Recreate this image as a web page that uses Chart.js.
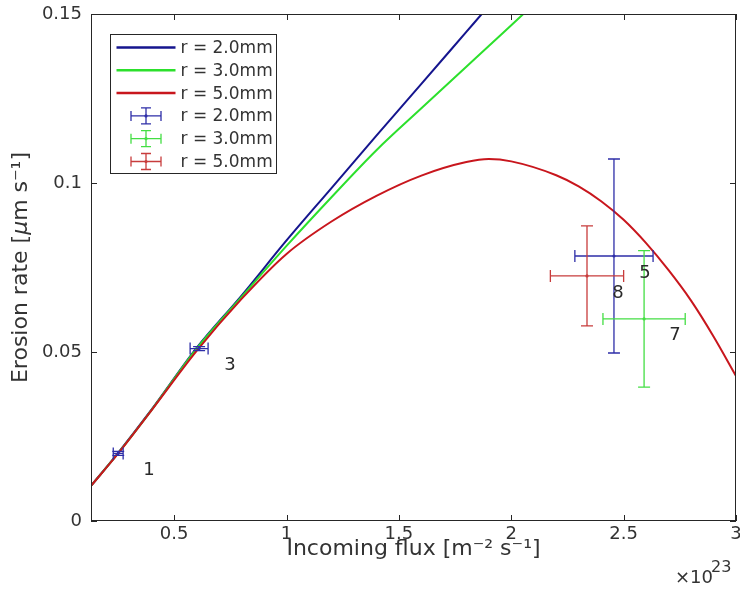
<!DOCTYPE html>
<html>
<head>
<meta charset="utf-8">
<script src="https://cdn.jsdelivr.net/npm/chart.js@4/dist/chart.umd.min.js"></script>
<style>
  html, body { margin: 0; padding: 0; background: #ffffff; }
  #wrap { width: 740px; height: 589px; position: relative; }
</style>
</head>
<body>
<div id="wrap"><canvas id="c" width="740" height="589"></canvas></div>
<script>
// Model curves: erosion rate vs incoming flux (flux in units of 1e23 m^-2 s^-1)
const curveFlux = [0.13, 0.25, 0.4, 0.6, 0.8, 1.0, 1.2, 1.4, 1.6, 1.8, 1.9, 2.0, 2.2, 2.3, 2.4, 2.5, 2.6, 2.7, 2.8, 2.9, 3.0];
const modelR2 = [0.0104, 0.0201, 0.0330, 0.0512, 0.0667, 0.0830, 0.0985, 0.1140, 0.1293, 0.1447, 0.1524, 0.1600, null, null, null, null, null, null, null, null, null];
const modelR3 = [0.0104, 0.0200, 0.0329, 0.0510, 0.0663, 0.0814, 0.0958, 0.1097, 0.1221, 0.1344, 0.1405, 0.1467, 0.1590, null, null, null, null, null, null, null, null];
const modelR5 = [0.0104, 0.0199, 0.0328, 0.0503, 0.0657, 0.0790, 0.0886, 0.0962, 0.1022, 0.1062, 0.1071, 0.1064, 0.1023, 0.0990, 0.0946, 0.0891, 0.0822, 0.0742, 0.0652, 0.0546, 0.0429];

// Measurements with uncertainties
const measFluxR2 = [0.251, 0.611, 2.457];
const measRateR2 = [0.0200, 0.0510, 0.0784];
const fluxErrR2 = [0.022, 0.040, 0.174];
const rateErrR2 = [0.0006, 0.0006, 0.0287];
const shotIdsR2 = ['1', '3', '5'];

const measFluxR3 = [2.591];
const measRateR3 = [0.0598];
const fluxErrR3 = [0.183];
const rateErrR3 = [0.0202];
const shotIdsR3 = ['7'];

const measFluxR5 = [2.337];
const measRateR5 = [0.0725];
const fluxErrR5 = [0.163];
const rateErrR5 = [0.0148];
const shotIdsR5 = ['8'];

const seriesLabels = ['r = 2.0mm', 'r = 3.0mm', 'r = 5.0mm'];

const xTickValues = [0.5, 1, 1.5, 2, 2.5, 3];
const xTickLabels = ['0.5', '1', '1.5', '2', '2.5', '3'];
const yTickValues = [0, 0.05, 0.1, 0.15];
const yTickLabels = ['0', '0.05', '0.1', '0.15'];

const lineColors = ['#15158e', '#2ce02c', '#c8161d'];
const barColors = ['#2e2ea8', '#44de44', '#c83c3c'];
const FONT = 'DejaVu Sans';
const TEXT = '#333333';

const pts = (xs, ys) => xs.map((x, i) => ({ x: x, y: ys[i] }));

// later series are painted over earlier ones (lower order = on top)
const lineSet = (i, ys) => ({
  label: seriesLabels[i],
  data: pts(curveFlux, ys),
  showLine: true,
  borderColor: lineColors[i],
  backgroundColor: lineColors[i],
  borderWidth: 2,
  pointRadius: 0,
  cubicInterpolationMode: 'monotone',
  spanGaps: false,
  order: 4 - i,
  kind: 'line'
});

const barSet = (i, xs, ys, ex, ey, ids) => ({
  label: seriesLabels[i],
  data: pts(xs, ys),
  showLine: false,
  borderColor: barColors[i],
  backgroundColor: barColors[i],
  pointRadius: 1.6,
  pointBorderWidth: 0,
  order: 0,
  errX: ex,
  errY: ey,
  ids: ids,
  kind: 'bars'
});

// Error bars with end caps, plus the shot number beside each measurement
const errorBarPlugin = {
  id: 'errorBars',
  afterDatasetsDraw(chart) {
    const ctx = chart.ctx;
    const xs = chart.scales.x, ys = chart.scales.y;
    const area = chart.chartArea;
    ctx.save();
    ctx.beginPath();
    ctx.rect(area.left, area.top, area.right - area.left, area.bottom - area.top);
    ctx.clip();
    chart.data.datasets.forEach(ds => {
      if (ds.kind !== 'bars') return;
      ctx.strokeStyle = ds.borderColor;
      ctx.lineWidth = 1.3;
      const cap = 6;
      ds.data.forEach((p, j) => {
        const cx = xs.getPixelForValue(p.x), cy = ys.getPixelForValue(p.y);
        const x0 = xs.getPixelForValue(p.x - ds.errX[j]), x1 = xs.getPixelForValue(p.x + ds.errX[j]);
        const y0 = ys.getPixelForValue(p.y - ds.errY[j]), y1 = ys.getPixelForValue(p.y + ds.errY[j]);
        ctx.beginPath();
        ctx.moveTo(cx, y0); ctx.lineTo(cx, y1);
        ctx.moveTo(cx - cap, y0); ctx.lineTo(cx + cap, y0);
        ctx.moveTo(cx - cap, y1); ctx.lineTo(cx + cap, y1);
        ctx.moveTo(x0, cy); ctx.lineTo(x1, cy);
        ctx.moveTo(x0, cy - cap); ctx.lineTo(x0, cy + cap);
        ctx.moveTo(x1, cy - cap); ctx.lineTo(x1, cy + cap);
        ctx.stroke();
      });
    });
    ctx.restore();

    ctx.save();
    ctx.fillStyle = '#2a2a2a';
    ctx.font = '18px "' + FONT + '"';
    ctx.textAlign = 'left';
    ctx.textBaseline = 'middle';
    chart.data.datasets.forEach(ds => {
      if (ds.kind !== 'bars') return;
      ds.data.forEach((p, j) => {
        const tx = xs.getPixelForValue(p.x + 0.112);
        const ty = ys.getPixelForValue(p.y - 0.005);
        ctx.fillText(ds.ids[j], tx, ty);
      });
    });
    ctx.restore();
  }
};

// Axes box with inward ticks on all four sides, axis titles and exponent
const framePlugin = {
  id: 'frame',
  afterDraw(chart) {
    const ctx = chart.ctx;
    const a = chart.chartArea;
    const xs = chart.scales.x, ys = chart.scales.y;
    const tl = 6;
    ctx.save();
    ctx.strokeStyle = '#262626';
    ctx.lineWidth = 1;
    ctx.strokeRect(Math.round(a.left) + 0.5, Math.round(a.top) + 0.5,
                   Math.round(a.right - a.left) - 1, Math.round(a.bottom - a.top) - 1);
    ctx.beginPath();
    xTickValues.forEach(v => {
      const px = Math.round(xs.getPixelForValue(v)) + 0.5;
      ctx.moveTo(px, a.bottom); ctx.lineTo(px, a.bottom - tl);
      ctx.moveTo(px, a.top); ctx.lineTo(px, a.top + tl);
    });
    yTickValues.forEach(v => {
      const py = Math.round(ys.getPixelForValue(v)) + 0.5;
      ctx.moveTo(a.left, py); ctx.lineTo(a.left + tl, py);
      ctx.moveTo(a.right, py); ctx.lineTo(a.right - tl, py);
    });
    ctx.stroke();

    // axis titles
    ctx.fillStyle = TEXT;
    ctx.textBaseline = 'middle';
    const tf = '22px "' + FONT + '"';
    const tfi = 'italic 22px "' + FONT + '"';
    const drawRuns = (runs, cx, cy) => {
      let w = 0;
      runs.forEach(r => { ctx.font = r[1]; w += ctx.measureText(r[0]).width; });
      let x = cx - w / 2;
      ctx.textAlign = 'left';
      runs.forEach(r => { ctx.font = r[1]; ctx.fillText(r[0], x, cy); x += ctx.measureText(r[0]).width; });
    };
    drawRuns([['Incoming flux [m\u207B\u00B2 s\u207B\u00B9]', tf]], (a.left + a.right) / 2, 549);
    ctx.save();
    ctx.translate(21, (a.top + a.bottom) / 2);
    ctx.rotate(-Math.PI / 2);
    drawRuns([['Erosion rate [', tf], ['\u03BC', tfi], ['m s\u207B\u00B9]', tf]], 0, 0);
    ctx.restore();

    // exponent label
    ctx.textAlign = 'left';
    ctx.font = '18px "' + FONT + '"';
    ctx.fillText('\u00D710', 675, 578);
    ctx.font = '16px "' + FONT + '"';
    ctx.fillText('23', 711, 568);
    ctx.restore();
  }
};

// Legend: line samples for the model curves, error-bar glyphs for the measurements
const legendPlugin = {
  id: 'boxLegend',
  afterDraw(chart) {
    const ctx = chart.ctx;
    const a = chart.chartArea;
    const bx = a.left + 19.5, by = a.top + 20.5, bw = 166, bh = 139;
    ctx.save();
    ctx.fillStyle = '#ffffff';
    ctx.fillRect(bx, by, bw, bh);
    ctx.strokeStyle = '#262626';
    ctx.lineWidth = 1;
    ctx.strokeRect(bx, by, bw, bh);
    ctx.font = '17px "' + FONT + '"';
    ctx.textBaseline = 'middle';
    ctx.textAlign = 'left';
    const rowH = 22.8;
    chart.data.datasets.forEach((ds, i) => {
      const cy = by + 13 + i * rowH;
      if (ds.kind === 'line') {
        ctx.strokeStyle = ds.borderColor;
        ctx.lineWidth = 2.5;
        ctx.beginPath();
        ctx.moveTo(bx + 6, cy); ctx.lineTo(bx + 65, cy);
        ctx.stroke();
      } else {
        const cx = bx + 35.5, hw = 15, hh = 8, cap = 5;
        ctx.strokeStyle = ds.borderColor;
        ctx.lineWidth = 1.3;
        ctx.beginPath();
        ctx.moveTo(cx - hw, cy); ctx.lineTo(cx + hw, cy);
        ctx.moveTo(cx - hw, cy - cap); ctx.lineTo(cx - hw, cy + cap);
        ctx.moveTo(cx + hw, cy - cap); ctx.lineTo(cx + hw, cy + cap);
        ctx.moveTo(cx, cy - hh); ctx.lineTo(cx, cy + hh);
        ctx.moveTo(cx - cap, cy - hh); ctx.lineTo(cx + cap, cy - hh);
        ctx.moveTo(cx - cap, cy + hh); ctx.lineTo(cx + cap, cy + hh);
        ctx.stroke();
        ctx.fillStyle = ds.borderColor;
        ctx.beginPath(); ctx.arc(cx, cy, 1.6, 0, Math.PI * 2); ctx.fill();
      }
      ctx.fillStyle = TEXT;
      ctx.fillText(ds.label, bx + 70, cy + 1);
    });
    ctx.restore();
  }
};

new Chart(document.getElementById('c'), {
  type: 'scatter',
  data: {
    datasets: [
      lineSet(0, modelR2),
      lineSet(1, modelR3),
      lineSet(2, modelR5),
      barSet(0, measFluxR2, measRateR2, fluxErrR2, rateErrR2, shotIdsR2),
      barSet(1, measFluxR3, measRateR3, fluxErrR3, rateErrR3, shotIdsR3),
      barSet(2, measFluxR5, measRateR5, fluxErrR5, rateErrR5, shotIdsR5)
    ]
  },
  options: {
    responsive: false,
    animation: false,
    devicePixelRatio: 1,
    layout: { padding: { left: 0, right: 4, top: 14, bottom: 0 } },
    plugins: { legend: { display: false }, tooltip: { enabled: false } },
    scales: {
      x: {
        type: 'linear',
        min: 0.13,
        max: 3,
        grid: { display: false, drawTicks: false },
        border: { display: false },
        afterBuildTicks: s => { s.ticks = xTickValues.map(v => ({ value: v })); },
        afterFit: s => { s.height = 68; s.paddingLeft = 0; s.paddingRight = 0; },
        ticks: {
          padding: 3,
          color: TEXT,
          font: { family: FONT, size: 18 },
          callback: (v) => xTickLabels[xTickValues.indexOf(v)]
        }
      },
      y: {
        type: 'linear',
        min: 0,
        max: 0.15,
        grid: { display: false, drawTicks: false },
        border: { display: false },
        afterBuildTicks: s => { s.ticks = yTickValues.map(v => ({ value: v })); },
        afterFit: s => { s.width = 91; s.paddingTop = 0; s.paddingBottom = 0; },
        ticks: {
          padding: 9,
          color: TEXT,
          font: { family: FONT, size: 18 },
          callback: (v) => yTickLabels[yTickValues.indexOf(v)]
        }
      }
    }
  },
  plugins: [errorBarPlugin, framePlugin, legendPlugin]
});
</script>
</body>
</html>
